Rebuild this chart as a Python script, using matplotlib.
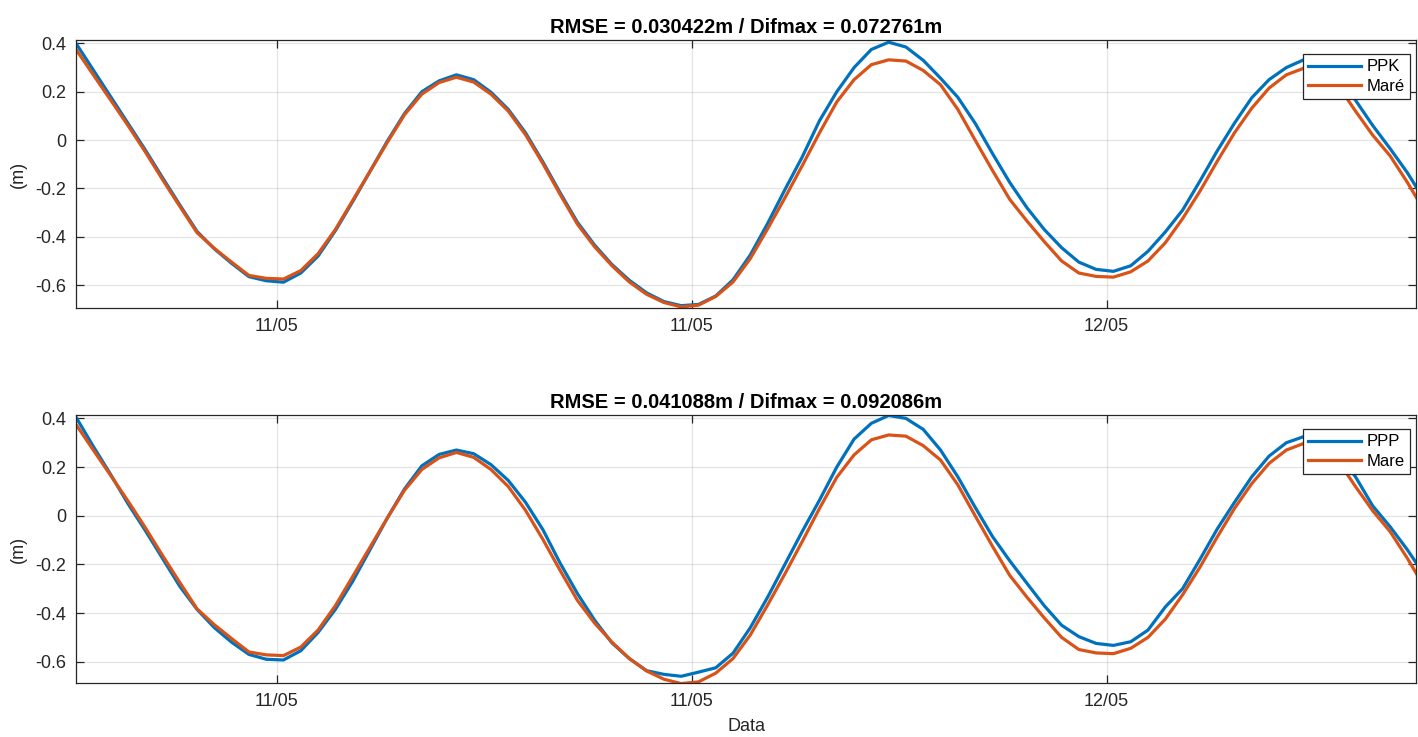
import numpy as np
import matplotlib
matplotlib.use("Agg")
import matplotlib.pyplot as plt
import matplotlib.dates as mdates
from matplotlib.ticker import FuncFormatter

plt.rcParams['font.family'] = ['Liberation Sans', 'DejaVu Sans']
plt.rcParams['axes.unicode_minus'] = False

# 30-minute samples starting 10/05 18:12
t_start = np.datetime64('2019-05-10T18:12')
t_end = np.datetime64('2019-05-12T08:57')

mare = [0.375, 0.27, 0.166, 0.061, -0.048, -0.163, -0.274, -0.383, -0.448, -0.505,
        -0.56, -0.572, -0.575, -0.54, -0.47, -0.37, -0.25, -0.13, -0.01, 0.105,
        0.19, 0.238, 0.26, 0.24, 0.19, 0.12, 0.022, -0.097, -0.225, -0.348,
        -0.442, -0.52, -0.587, -0.638, -0.672, -0.69, -0.683, -0.647, -0.587, -0.49,
        -0.367, -0.239, -0.106, 0.03, 0.158, 0.25, 0.312, 0.332, 0.327, 0.288,
        0.229, 0.127, 0.0, -0.125, -0.245, -0.335, -0.42, -0.5, -0.55, -0.564,
        -0.567, -0.545, -0.5, -0.425, -0.325, -0.212, -0.088, 0.03, 0.132, 0.215,
        0.27, 0.297, 0.29, 0.225, 0.12, 0.02, -0.065, -0.175, -0.295]

ppk = [0.40, 0.29, 0.18, 0.07, -0.04, -0.155, -0.268, -0.378, -0.45, -0.51,
       -0.565, -0.582, -0.588, -0.55, -0.48, -0.375, -0.255, -0.13, -0.005, 0.11,
       0.2, 0.245, 0.27, 0.25, 0.198, 0.127, 0.03, -0.09, -0.218, -0.34,
       -0.435, -0.515, -0.58, -0.632, -0.668, -0.685, -0.68, -0.645, -0.578, -0.475,
       -0.345, -0.205, -0.07, 0.08, 0.2, 0.3, 0.375, 0.405, 0.385, 0.33,
       0.256, 0.177, 0.07, -0.055, -0.175, -0.28, -0.37, -0.445, -0.505, -0.535,
       -0.543, -0.52, -0.46, -0.38, -0.29, -0.17, -0.045, 0.07, 0.175, 0.25,
       0.3, 0.332, 0.33, 0.27, 0.165, 0.06, -0.035, -0.135, -0.25]

ppp = [0.405, 0.285, 0.17, 0.05, -0.06, -0.175, -0.29, -0.385, -0.46, -0.52,
       -0.57, -0.59, -0.593, -0.555, -0.48, -0.385, -0.27, -0.14, -0.01, 0.11,
       0.205, 0.252, 0.27, 0.255, 0.21, 0.145, 0.055, -0.057, -0.195, -0.32,
       -0.43, -0.523, -0.587, -0.637, -0.652, -0.66, -0.643, -0.625, -0.565, -0.46,
       -0.335, -0.2, -0.065, 0.064, 0.2, 0.315, 0.38, 0.412, 0.4, 0.355,
       0.27, 0.16, 0.035, -0.085, -0.185, -0.278, -0.37, -0.45, -0.497, -0.525,
       -0.533, -0.518, -0.47, -0.375, -0.3, -0.18, -0.055, 0.055, 0.16, 0.245,
       0.3, 0.325, 0.315, 0.255, 0.16, 0.04, -0.045, -0.14, -0.245]

titles = ['RMSE = 0.030422m / Difmax = 0.072761m',
          'RMSE = 0.041088m / Difmax = 0.092086m']
labels = [('PPK', 'Maré'), ('PPP', 'Mare')]

times = t_start + np.arange(len(mare)) * np.timedelta64(30, 'm')
times = times.astype('datetime64[s]').astype(object)

blue = '#0072BD'
orange = '#D95319'
edge = '#262626'

fig = plt.figure(figsize=(14.18, 7.37), dpi=100)
ax1 = fig.add_axes([0.0536, 0.582, 0.9450, 0.3637])
ax2 = fig.add_axes([0.0536, 0.0733, 0.9450, 0.3636])

def yfmt(v, pos):
    if abs(v) < 1e-9:
        return '0'
    return ('%.1f' % v)

for ax, gnss, title, (lab1, lab2), ylo in zip([ax1, ax2], [ppk, ppp], titles, labels,
                                              [-0.695, -0.6875]):
    ax.plot(times, gnss, color=blue, lw=2.3, label=lab1)
    ax.plot(times, mare, color=orange, lw=2.3, label=lab2)
    ax.set_xlim(t_start.astype(object), t_end.astype(object))
    ax.set_ylim(ylo, 0.414)
    ax.set_yticks([-0.6, -0.4, -0.2, 0, 0.2, 0.4])
    ax.yaxis.set_major_formatter(FuncFormatter(yfmt))
    ax.xaxis.set_major_locator(mdates.HourLocator(byhour=[0, 12]))
    ax.xaxis.set_major_formatter(mdates.DateFormatter('%d/%m'))
    ax.grid(True, color='#262626', alpha=0.12, lw=0.9)
    ax.tick_params(direction='in', length=6, width=0.9, colors=edge, labelsize=13,
                   top=True, right=True, pad=7)
    for sp in ax.spines.values():
        sp.set_color(edge)
        sp.set_linewidth(0.9)
    ax.set_title(title, fontsize=14.5, fontweight='bold', color='black', pad=5)
    ax.set_ylabel('(m)', fontsize=13, color=edge, labelpad=6)
    leg = ax.legend(loc='upper right', bbox_to_anchor=(0.9955, 0.946), fontsize=12,
                    handlelength=3.2, handletextpad=0.35, borderpad=0.3,
                    labelspacing=0.25, fancybox=False, framealpha=1, borderaxespad=0)
    leg.get_frame().set_edgecolor(edge)
    leg.get_frame().set_linewidth(0.9)

ax2.set_xlabel('Data', fontsize=13, color=edge, labelpad=6)

fig.savefig('out.png', dpi=100)
